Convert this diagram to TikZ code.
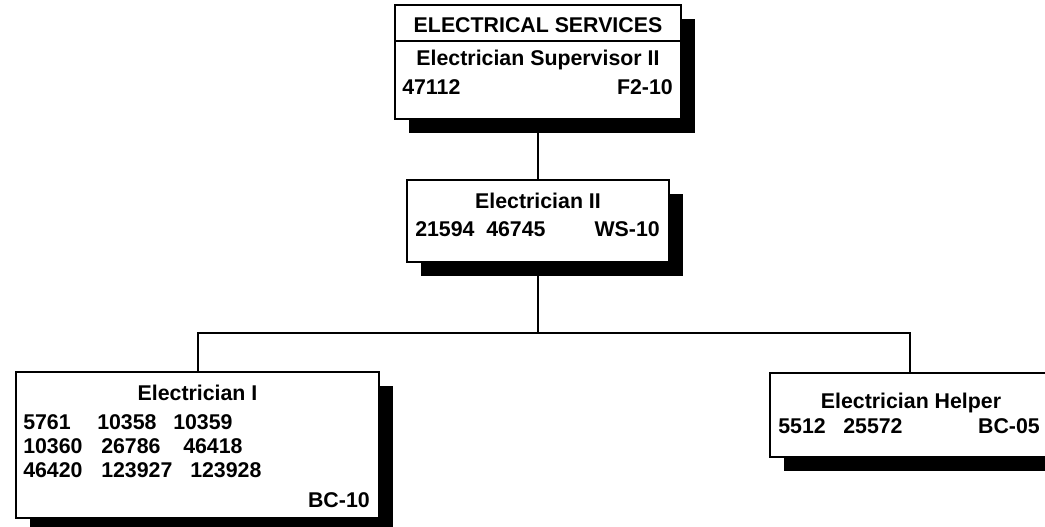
\documentclass[tikz,border=0pt]{standalone}
\usepackage{fontspec}
\setmainfont{Liberation Sans}
\usetikzlibrary{shadows}
\begin{document}
\begin{tikzpicture}[x=0.75pt,y=-0.75pt,
  box/.style={draw, line width=1.5pt, fill=white, inner sep=0pt,
    general shadow={fill=black, shadow xshift=10.5pt, shadow yshift=-10.5pt}},
  txt/.style={inner sep=0pt, font=\fontsize{16}{18}\selectfont\bfseries},
  lt/.style={txt, anchor=base west},
  rt/.style={txt, anchor=base east},
  ct/.style={txt, anchor=base},
  link/.style={line width=1.5pt}]
\clip (0,0) rectangle (1045,526);
% boxes
\node[box, minimum width=214.5pt, minimum height=27pt] (hdr) at (538,23) {};
\node[box, minimum width=214.5pt, minimum height=58.5pt] (sup) at (538,80) {};
\node[box, minimum width=196.5pt, minimum height=61.5pt] (e2) at (538,221) {};
\node[box, minimum width=272.25pt, minimum height=109.5pt] (e1) at (197.5,445) {};
\node[box, minimum width=210pt, minimum height=63pt] (help) at (910,415) {};
% connectors
\coordinate (bus) at (538,333);
\draw[link] (sup.south) -- (e2.north);
\draw[link] (e2.south) -- (bus);
\draw[link] (e1.north) |- (bus) -| (help.north);
% texts
\node[ct] (t0) at (538,32) {ELECTRICAL SERVICES};
\node[ct] (t1) at (538,65) {Electrician Supervisor II};
\node[lt] (t2) at (402,94) {47112};
\node[rt] (t3) at (673,94) {F2-10};
\node[ct] (t4) at (538,208) {Electrician II};
\node[lt] (t5) at (415,236) {21594};
\node[lt] (t6) at (486,236) {46745};
\node[rt] (t7) at (660,236) {WS-10};
\node[ct] (t8) at (197.5,400) {Electrician I};
\node[lt] (a1) at (23,429) {5761};
\node[lt] (a2) at (97,429) {10358};
\node[lt] (a3) at (173,429) {10359};
\node[lt] (b1) at (23,453) {10360};
\node[lt] (b2) at (101,453) {26786};
\node[lt] (b3) at (183,453) {46418};
\node[lt] (c1) at (23,477) {46420};
\node[lt] (c2) at (101,477) {123927};
\node[lt] (c3) at (190,477) {123928};
\node[rt] (t9) at (370,507) {BC-10};
\node[ct] (t10) at (911,408) {Electrician Helper};
\node[lt] (h1) at (778,433) {5512};
\node[lt] (h2) at (843,433) {25572};
\node[rt] (h3) at (1040,433) {BC-05};
\end{tikzpicture}
\end{document}
